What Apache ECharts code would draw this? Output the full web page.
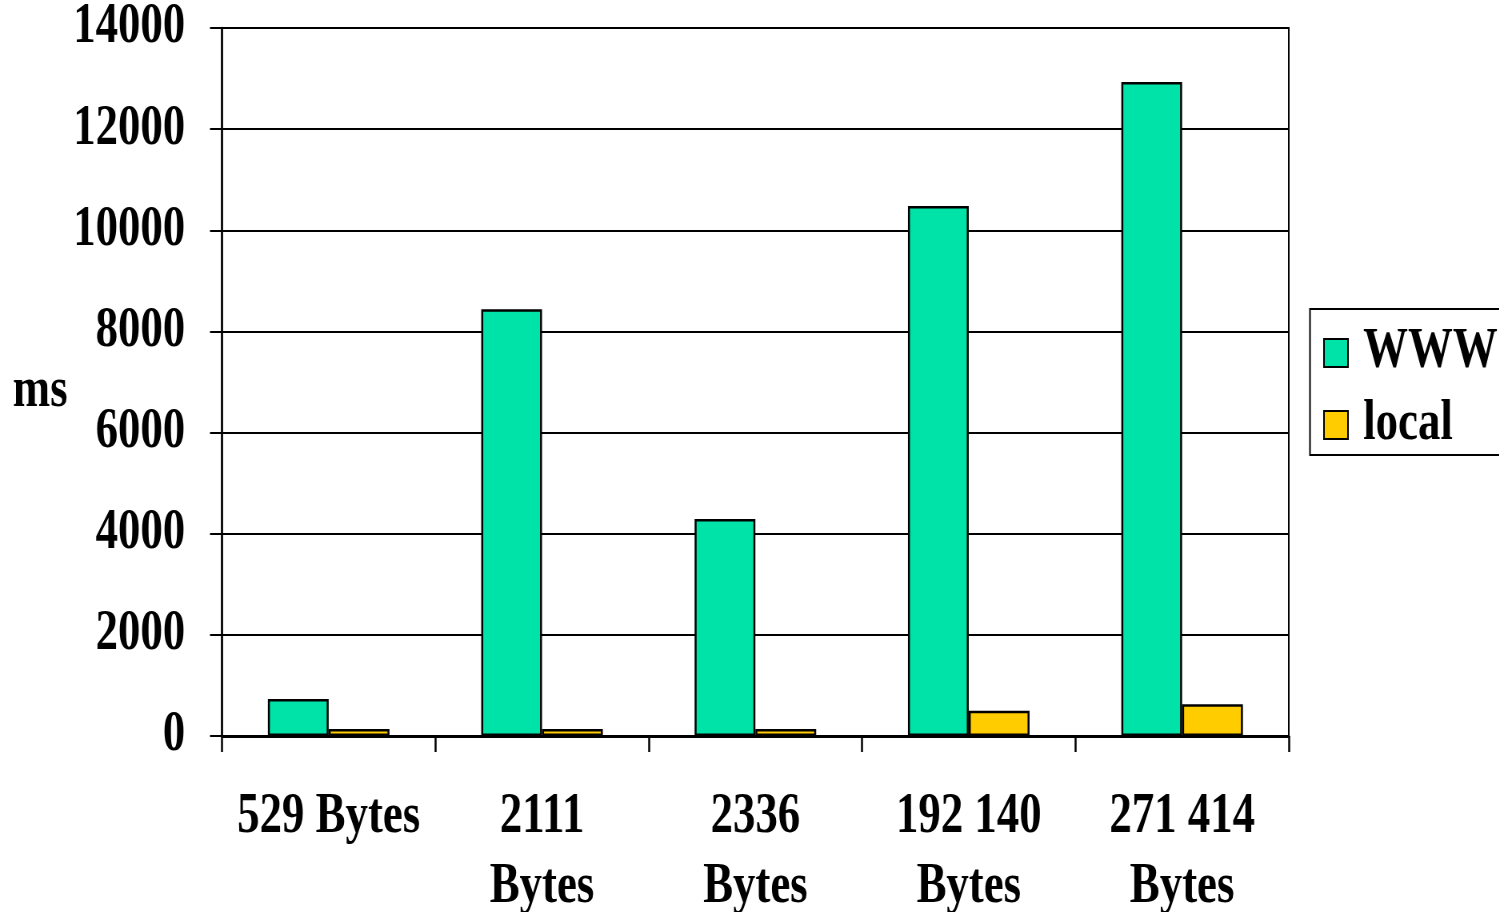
<!DOCTYPE html>
<html>
<head>
<meta charset="utf-8">
<script src="https://cdn.jsdelivr.net/npm/echarts@6/dist/echarts.min.js"></script>
<style>
  html, body { margin: 0; padding: 0; background: #fff; overflow: hidden; }
  /* narrow serif lettering: the chart is laid out wide and compressed horizontally */
  #chart { width: 1874px; height: 912px; transform: scaleX(0.8); transform-origin: 0 0; }
</style>
</head>
<body>
<div id="chart"></div>
<script>
const categories = ['529 Bytes', '2111\nBytes', '2336\nBytes', '192 140\nBytes', '271 414\nBytes'];
const wwwValues = [730, 8440, 4290, 10480, 12930];
const localValues = [140, 140, 140, 500, 630];
const seriesNames = ['WWW', 'local'];

const FONT = "'Liberation Serif', 'Times New Roman', serif";
const chart = echarts.init(document.getElementById('chart'), null, { renderer: 'canvas' });

const textBase = { fontFamily: FONT, fontWeight: 'bold', fontSize: 56, color: '#000' };

chart.setOption({
  backgroundColor: '#fff',
  animation: false,
  grid: {
    left: 277.5, right: 263, top: 28, bottom: 176,
    outerBoundsMode: 'none',
    show: true, borderColor: '#000', borderWidth: 2, backgroundColor: 'transparent'
  },
  legend: {
    orient: 'vertical',
    left: 1637.5, top: 309,
    padding: [16, 80, 2, 16.5],
    itemGap: 16,
    itemWidth: 30, itemHeight: 28,
    icon: 'rect',
    itemStyle: { borderColor: '#000', borderWidth: 2 },
    borderColor: '#000', borderWidth: 2,
    backgroundColor: '#fff',
    textStyle: Object.assign({}, textBase, { lineHeight: 56, padding: [0, 0, 0, 14] }),
    data: seriesNames
  },
  xAxis: {
    type: 'category',
    data: categories,
    axisLine: { show: true, lineStyle: { color: '#000', width: 3 } },
    axisTick: { show: true, length: 16, lineStyle: { color: '#000', width: 2.5 } },
    axisLabel: Object.assign({}, textBase, { margin: 47, lineHeight: 70, interval: 0 }),
    splitLine: { show: false }
  },
  yAxis: {
    type: 'value',
    min: 0, max: 14000, interval: 2000,
    name: 'ms',
    nameLocation: 'middle',
    nameRotate: 0,
    nameGap: 193,
    nameTextStyle: Object.assign({}, textBase, { verticalAlign: 'top', lineHeight: 20 }),
    axisLine: { show: true, lineStyle: { color: '#000', width: 2.5 } },
    axisTick: { show: true, length: 15, lineStyle: { color: '#000', width: 2 } },
    axisLabel: Object.assign({}, textBase, { margin: 46, formatter: v => String(v) }),
    splitLine: { show: true, lineStyle: { color: '#000', width: 2 } }
  },
  series: [
    {
      name: seriesNames[0], type: 'bar', data: wwwValues,
      barWidth: 76, barGap: '0%',
      itemStyle: { color: '#00E3A8', borderColor: '#000', borderWidth: 2.5 }
    },
    {
      name: seriesNames[1], type: 'bar', data: localValues,
      barWidth: 76, barGap: '0%',
      itemStyle: { color: '#FFCC00', borderColor: '#000', borderWidth: 2.5 }
    }
  ]
});
</script>
</body>
</html>
